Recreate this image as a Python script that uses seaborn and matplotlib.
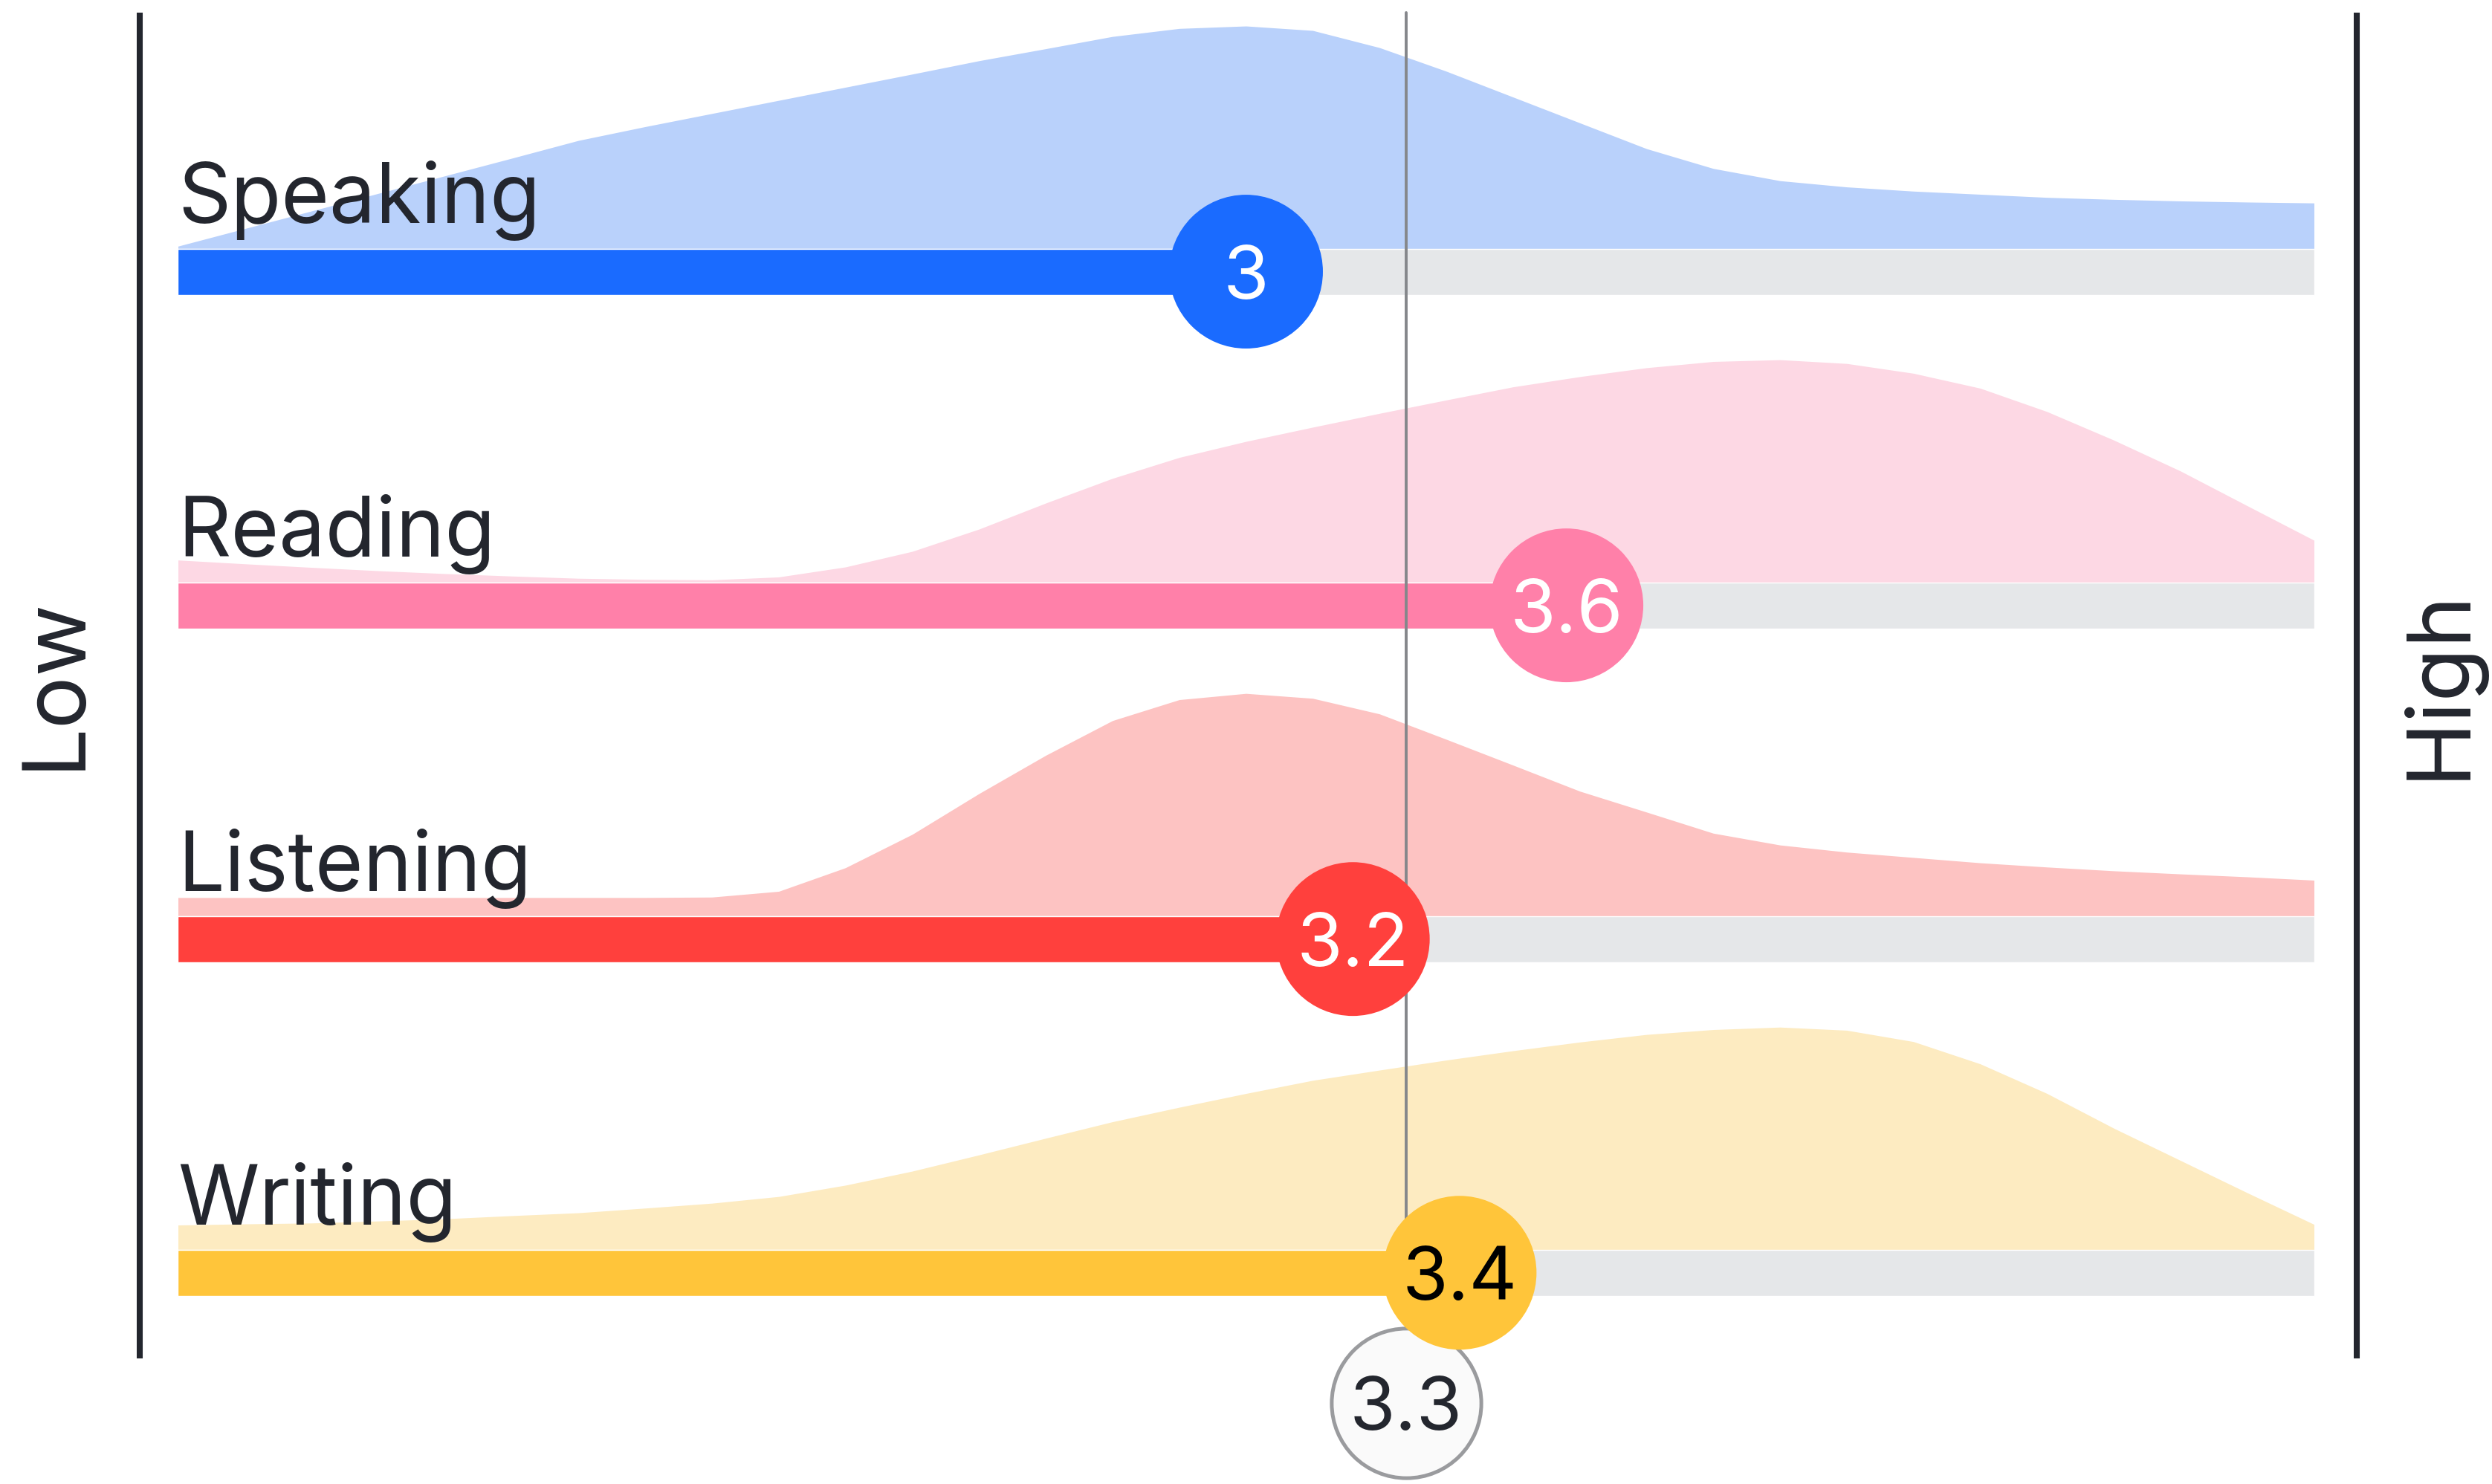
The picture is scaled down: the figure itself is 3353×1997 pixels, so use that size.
import numpy as np
import pandas as pd
import matplotlib
matplotlib.use('Agg')
import matplotlib.pyplot as plt
import seaborn as sns

# skill rows, top to bottom
skills = ['Speaking', 'Reading', 'Listening', 'Writing']
scores = [3.0, 3.6, 3.2, 3.4]
score_labels = ['3', '3.6', '3.2', '3.4']
average = 3.3

bar_colors = ['#1A6BFF', '#FF80A9', '#FF403D', '#FFC53A']
fill_colors = ['#B9D1FB', '#FDD8E4', '#FDC3C2', '#FDEBC1']
text_colors = ['white', 'white', 'white', 'black']

# response distribution (relative height, peak = 1) read at steps of 0.125 on the 1-5 scale
grid = [1.0, 1.125, 1.25, 1.375, 1.5, 1.625, 1.75, 1.875, 2.0,
        2.125, 2.25, 2.375, 2.5, 2.625, 2.75, 2.875, 3.0,
        3.125, 3.25, 3.375, 3.5, 3.625, 3.75, 3.875, 4.0,
        4.125, 4.25, 4.375, 4.5, 4.625, 4.75, 4.875, 5.0]
dens_speaking = [0.011, 0.090, 0.169, 0.248, 0.327, 0.406, 0.486, 0.548, 0.607,
                 0.666, 0.725, 0.784, 0.844, 0.898, 0.953, 0.989, 1.000,
                 0.980, 0.903, 0.797, 0.681, 0.565, 0.449, 0.360, 0.305,
                 0.277, 0.258, 0.244, 0.230, 0.221, 0.214, 0.209, 0.205]
dens_reading = [0.100, 0.083, 0.067, 0.052, 0.039, 0.028, 0.018, 0.013, 0.011,
                0.024, 0.069, 0.139, 0.239, 0.356, 0.467, 0.561, 0.633,
                0.697, 0.759, 0.819, 0.878, 0.924, 0.964, 0.992, 1.000,
                0.983, 0.939, 0.872, 0.767, 0.639, 0.500, 0.344, 0.189]
dens_listening = [0.083, 0.083, 0.083, 0.083, 0.083, 0.083, 0.083, 0.083, 0.085,
                  0.111, 0.217, 0.367, 0.550, 0.722, 0.878, 0.972, 1.000,
                  0.978, 0.908, 0.794, 0.678, 0.561, 0.467, 0.372, 0.319,
                  0.287, 0.263, 0.239, 0.220, 0.203, 0.189, 0.176, 0.161]
dens_writing = [0.111, 0.116, 0.120, 0.129, 0.139, 0.153, 0.166, 0.187, 0.209,
                0.239, 0.290, 0.353, 0.426, 0.501, 0.575, 0.640, 0.702,
                0.761, 0.807, 0.852, 0.894, 0.933, 0.967, 0.989, 1.000,
                0.986, 0.935, 0.835, 0.702, 0.546, 0.401, 0.256, 0.114]
densities = [dens_speaking, dens_reading, dens_listening, dens_writing]

sns.set_theme(style='white')
plt.rcParams['font.family'] = ['Inter', 'DejaVu Sans']

dark = '#23262E'
track_h = 0.138          # bar thickness in row units
ridge_h = 0.667          # height of a full distribution peak

fig = plt.figure(figsize=(33.53, 19.97), dpi=100)
ax = fig.add_axes([0, 0, 1, 1])
ax.set_xlim(1 - 1 / 3, 5 + 1 / 3)
ax.set_ylim(3.633, -0.814)
ax.axis('off')

df = pd.DataFrame({'skill': skills, 'score': scores, 'row': range(len(skills))})

for i, (name, dens) in enumerate(zip(skills, densities)):
    top = i - track_h / 2
    ax.fill_between(grid, top, top - np.array(dens) * ridge_h,
                    color=fill_colors[i], lw=0, zorder=1)
    # grey track and coloured score bar
    ax.barh(i, 4, left=1, height=track_h, color='#E5E7E9', zorder=2)
    ax.barh(i, scores[i] - 1, left=1, height=track_h, color=bar_colors[i], zorder=3)
    ax.text(1, i - 0.145, name, fontsize=80, color=dark, ha='left', va='baseline', zorder=5)

# average reference line
ax.plot([average, average], [-0.776, 3.16], color='#85878B', lw=2.8, zorder=4)

# score bubbles
sns.scatterplot(data=df, x='score', y='row', hue='skill', palette=bar_colors,
                s=22200, linewidth=0, legend=False, ax=ax, zorder=7)
for i in range(len(skills)):
    ax.text(scores[i], i, score_labels[i], fontsize=72, color=text_colors[i],
            ha='center', va='center_baseline', zorder=8)

# average bubble
ax.scatter([average], [3.39], s=21000, color='#FAFAFA', edgecolor='#9A9B9E',
           linewidth=3.6, zorder=6)
ax.text(average, 3.39, '3.3', fontsize=72, color=dark, ha='center',
        va='center_baseline', zorder=6)

# side scale markers
for xv in [0.9286, 5.080]:
    ax.plot([xv, xv], [-0.776, 3.257], color=dark, lw=5.8, solid_capstyle='butt', zorder=4)
ax.text(0.771, 1.233, 'Low', fontsize=85, color=dark, rotation=90, ha='center', va='center')
ax.text(5.235, 1.233, 'High', fontsize=85, color=dark, rotation=90, ha='center', va='center')

plt.savefig('out.png', dpi=100)
